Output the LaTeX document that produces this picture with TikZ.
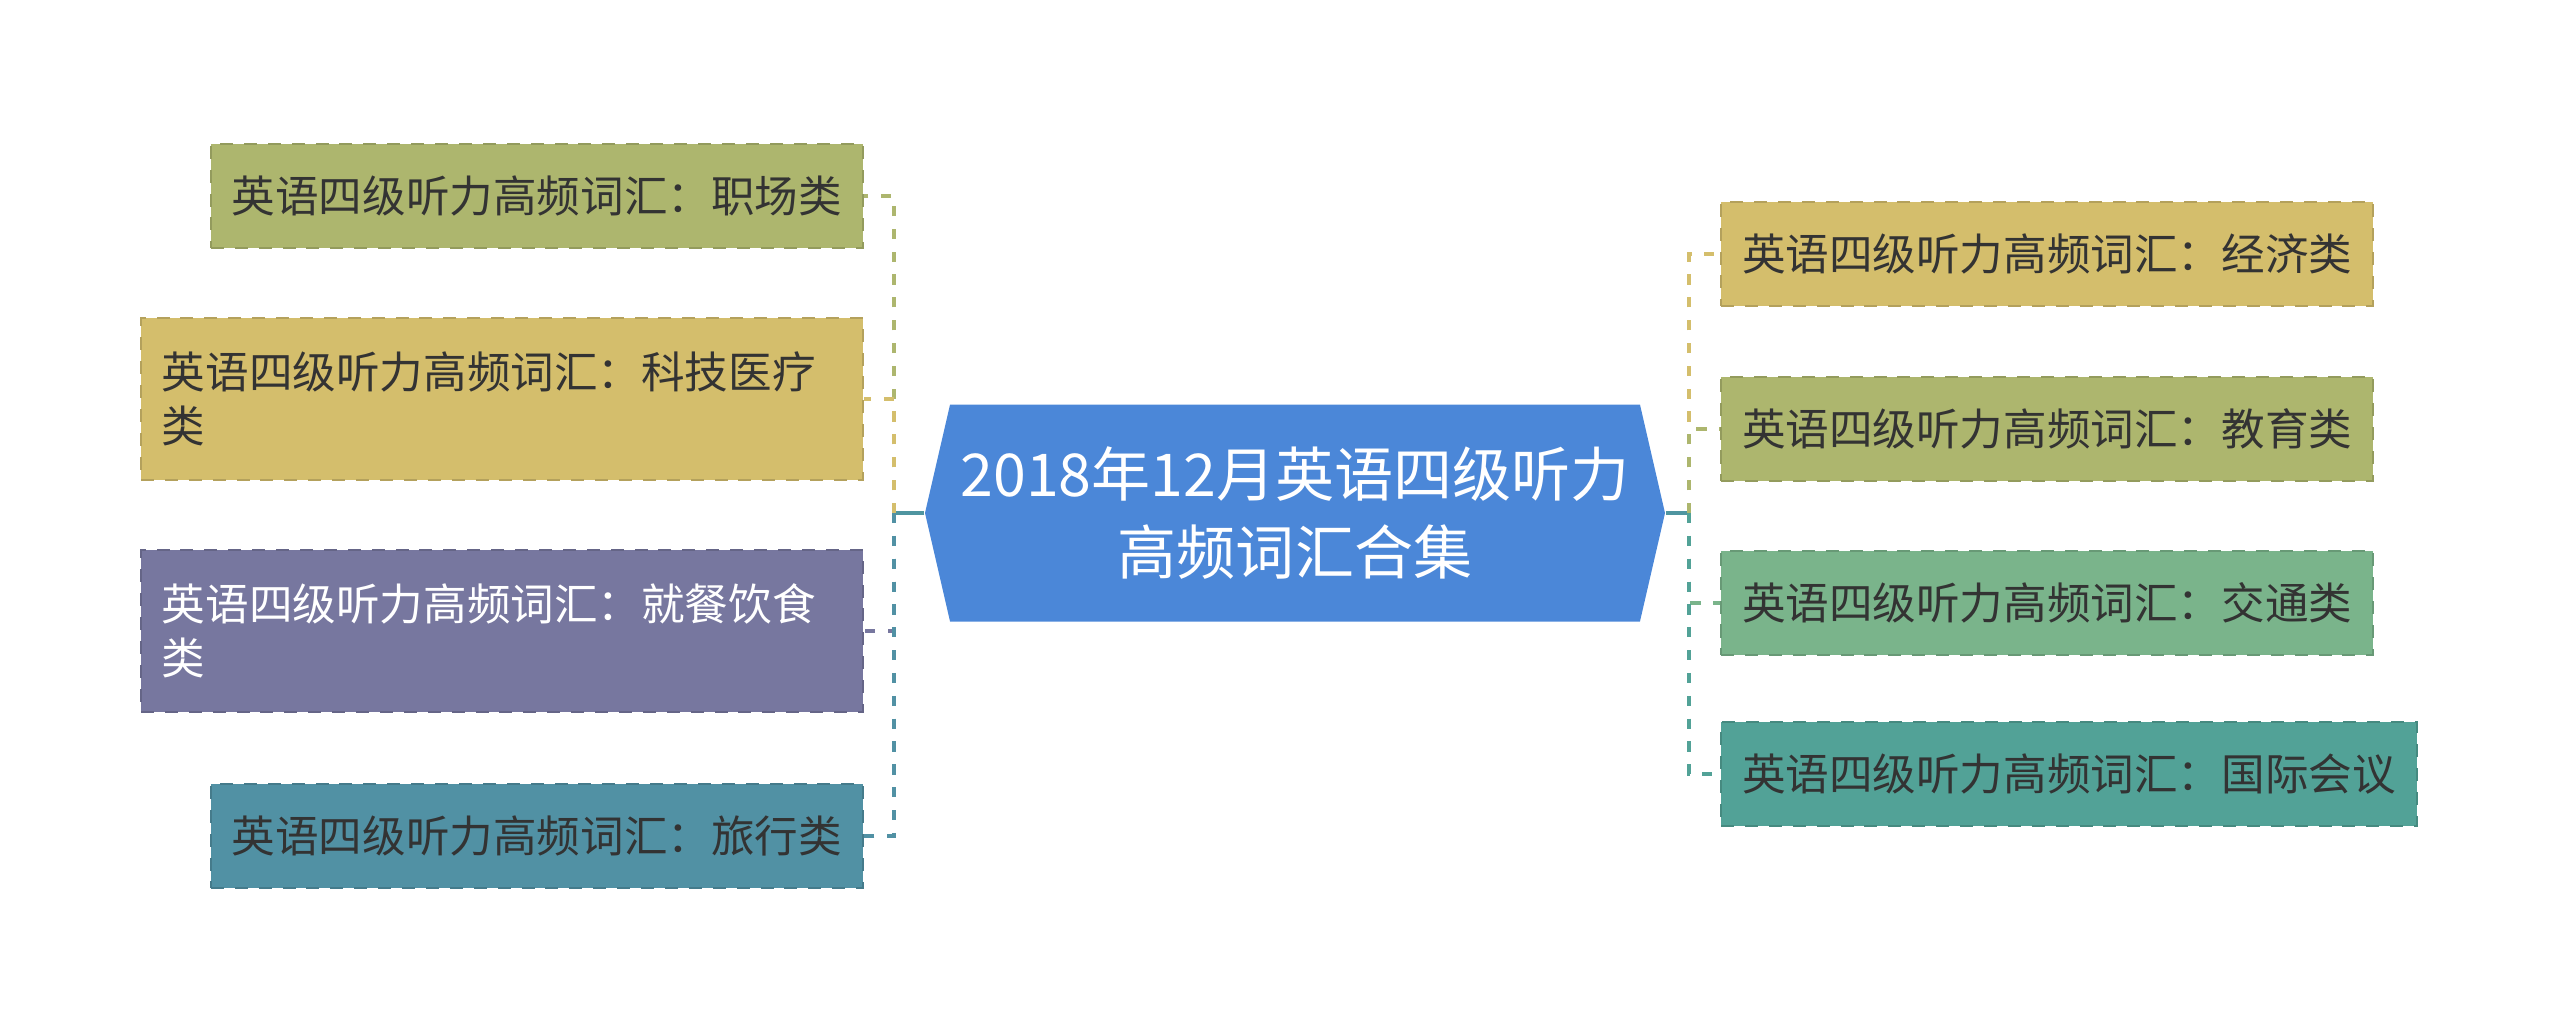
\documentclass[tikz,border=0pt]{standalone}
\usepackage{fontspec}
\setmainfont{Noto Sans CJK SC}
\usetikzlibrary{shapes.symbols}
\definecolor{cOlive}{HTML}{ADB66E}
\definecolor{cSand}{HTML}{D4BE6C}
\definecolor{cPlum}{HTML}{77779F}
\definecolor{cSea}{HTML}{5191A4}
\definecolor{cMint}{HTML}{7AB48B}
\definecolor{cJade}{HTML}{52A297}
\definecolor{cRoot}{HTML}{4B87D8}
\definecolor{cStem}{HTML}{4F95A0}
\definecolor{cInk}{HTML}{333333}
\newcommand\boxfont{\fontsize{12.4pt}{15.4pt}\selectfont}
\newcommand\rootfont{\fontsize{16.8pt}{22.4pt}\selectfont}
\tikzset{box/.style={rectangle, draw=#1!85!black, dash pattern=on 3.7pt off 3.1pt,
           line width=0.6pt, fill=#1, minimum height=1.04cm, inner xsep=0.21cm,
           text=cInk, font=\boxfont},
         wide/.style={text width=6.8cm, align=left, minimum height=1.62cm},
         branch/.style={draw=#1, dash pattern=on 2.9pt off 3.6pt, line width=1.1pt}}

\begin{document}
\begin{tikzpicture}
  \useasboundingbox (0,0) rectangle (25.6,-10.27);

  \node[signal, signal to=west and east, signal pointer angle=154,
        fill=cRoot, text=white, font=\rootfont, align=center,
        minimum width=7.4cm, minimum height=2.17cm, inner xsep=0.05cm]
    (root) at (12.95,-5.13) {2018年12月英语四级听力\\高频词汇合集};

  % left side
  \node[box=cOlive, anchor=east] (job) at (8.64,-1.96) {英语四级听力高频词汇：职场类};
  \node[box=cSand, wide, anchor=east] (tech) at (8.64,-3.99) {英语四级听力高频词汇：科技医疗\\类};
  \node[box=cPlum, wide, anchor=east, text=white] (food) at (8.64,-6.31) {英语四级听力高频词汇：就餐饮食\\类};
  \node[box=cSea, anchor=east] (trip) at (8.64,-8.36) {英语四级听力高频词汇：旅行类};

  % right side
  \node[box=cSand, anchor=west] (econ) at (17.20,-2.54) {英语四级听力高频词汇：经济类};
  \node[box=cOlive, anchor=west] (edu) at (17.20,-4.29) {英语四级听力高频词汇：教育类};
  \node[box=cMint, anchor=west] (road) at (17.20,-6.03) {英语四级听力高频词汇：交通类};
  \node[box=cJade, anchor=west] (meet) at (17.20,-7.74) {英语四级听力高频词汇：国际会议};

  \coordinate (lj) at (8.94,-5.13);
  \coordinate (rj) at (16.89,-5.13);
  \draw[cStem, line width=1.1pt] (root.west) -- (lj) (root.east) -- (rj);

  \foreach \n/\c in {job/cOlive,tech/cSand,food/cPlum,trip/cSea}
    \draw[branch=\c] (lj) |- (\n.east);
  \foreach \n/\c in {econ/cSand,edu/cOlive,road/cMint,meet/cJade}
    \draw[branch=\c] (rj) |- (\n.west);
\end{tikzpicture}
\end{document}
